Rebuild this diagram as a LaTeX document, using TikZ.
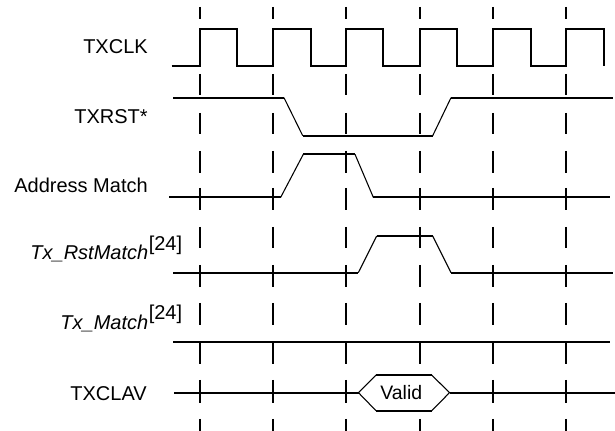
\documentclass[tikz,border=0pt]{standalone}
\usepackage{fontspec}
\setmainfont{Liberation Sans}
\begin{document}
\begin{tikzpicture}[x=0.75pt,y=-0.75pt,
  lab/.style={inner sep=0pt,font=\fontsize{15}{18}\selectfont},
  sig/.style={line width=1.5pt},
  slope/.style={line width=0.8pt},
  dsh/.style={line width=1.5pt}]
\useasboundingbox (0,0) rectangle (615,431);
% dashed vertical guides
\foreach \x in {200,273.3,346,419.5,492.7,566}{
  \foreach \a/\b in {7/19.5,36/58,74/95,113/134,151/173,188/210,227/248,265/287,303/325,342/364,380/403,419/431}{
    \draw[dsh] (\x,\a) -- (\x,\b);
  }
}
% labels
\node[lab,anchor=base east] (clk) at (148,53.3) {TXCLK};
\node[lab,anchor=base east] (rst) at (148,124) {TXRST*};
\node[lab,anchor=base east] (am) at (148,192.7) {Address Match};
\node[lab,anchor=base east] (rm) at (148.5,260) {\textit{Tx\_RstMatch}};
\node[lab,anchor=base west] (rmsup) at ([yshift=6.8pt]rm.base east) {[24]};
\node[lab,anchor=base east] (tm) at (148.5,330) {\textit{Tx\_Match}};
\node[lab,anchor=base west] (tmsup) at ([yshift=8pt]tm.base east) {[24]};
\node[lab,anchor=base east] (clav) at (147,400.7) {TXCLAV};
% TXCLK
\draw[sig] (171.7,65.7) -- (200,65.7) -- (200,29.3) -- (237.3,29.3) -- (237.3,65.7)
  -- (273.3,65.7) -- (273.3,29.3) -- (310.7,29.3) -- (310.7,65.7)
  -- (346,65.7) -- (346,29.3) -- (383.3,29.3) -- (383.3,65.7)
  -- (419.5,65.7) -- (419.5,29.3) -- (456.7,29.3) -- (456.7,65.7)
  -- (492.7,65.7) -- (492.7,29.3) -- (531,29.3) -- (531,65.7)
  -- (566,65.7) -- (566,29.3) -- (604,29.3) -- (604,65.7);
% TXRST*
\draw[sig] (173.3,97.7) -- (284,97.7);
\draw[slope] (284,97.7) -- (302.7,135.7);
\draw[sig] (302.7,135.7) -- (432.7,135.7);
\draw[slope] (432.7,135.7) -- (451,97.7);
\draw[sig] (451,97.7) -- (613.3,97.7);
% Address Match
\draw[sig] (169.3,197.3) -- (280.7,197.3);
\draw[slope] (280.7,197.3) -- (303.3,154.3);
\draw[sig] (303.3,154.3) -- (355,154.3);
\draw[slope] (355,154.3) -- (373.3,197.3);
\draw[sig] (373.3,197.3) -- (610,197.3);
% Tx_RstMatch
\draw[sig] (173.3,272.7) -- (358.3,272.7);
\draw[slope] (358.3,272.7) -- (376.7,236);
\draw[sig] (376.7,236) -- (432.7,236);
\draw[slope] (432.7,236) -- (451,272.7);
\draw[sig] (451,272.7) -- (613.3,272.7);
% Tx_Match
\draw[sig] (173.3,341.7) -- (610,341.7);
% TXCLAV
\draw[sig] (174,392.7) -- (358.5,392.7);
\draw[sig] (449.5,392.7) -- (615,392.7);
\fill[white] (358.5,392.7) -- (376,375) -- (431.7,375) -- (449.5,392.7) -- (431.7,410.7) -- (376,410.7) -- cycle;
\draw[slope] (376,375) -- (358.5,392.7) -- (376,410.7);
\draw[slope] (431.7,375) -- (449.5,392.7) -- (431.7,410.7);
\draw[sig] (376,375) -- (431.7,375);
\draw[sig] (376,410.7) -- (431.7,410.7);
\node[lab,anchor=base,font=\fontsize{14.6}{18}\selectfont] (valid) at (401.3,400) {Valid};
\end{tikzpicture}
\end{document}
